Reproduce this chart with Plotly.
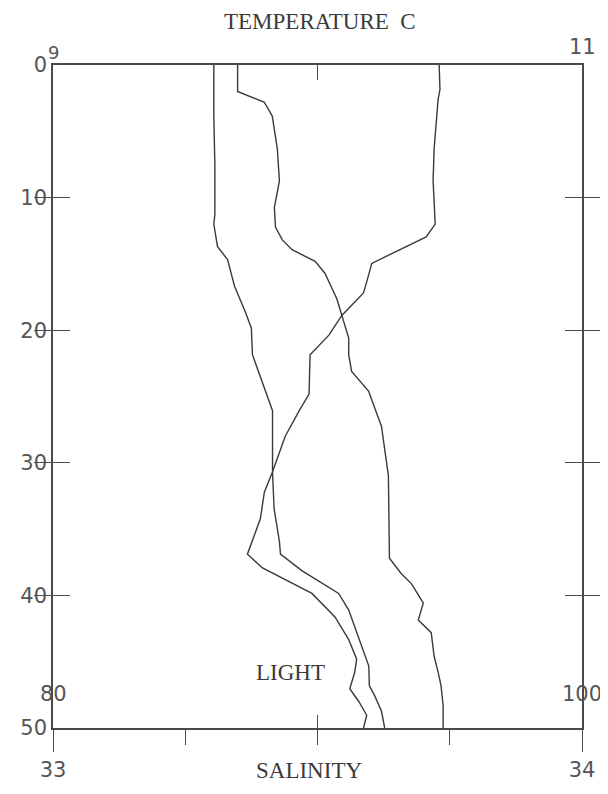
import plotly.graph_objects as go

# ---- data ----
temp_depth = [0, 1.85, 2.59, 6.3, 8.74, 12.0, 12.96, 13.85, 14.96, 16.15, 17.19, 18.89, 20.37,
              21.85, 24.81, 26.07, 28.0, 30.74, 32.22, 34.22, 36.89, 37.93, 39.85, 41.63,
              43.33, 44.81, 45.78, 47.04, 48.0, 49.04, 50]
temp_vals = [10.46, 10.463, 10.456, 10.441, 10.437, 10.445, 10.411, 10.317, 10.205, 10.189,
             10.174, 10.092, 10.043, 9.972, 9.968, 9.931, 9.878, 9.829, 9.799, 9.784, 9.735,
             9.792, 9.979, 10.066, 10.118, 10.148, 10.141, 10.122, 10.156, 10.186, 10.174]

sal_depth = [0, 3.85, 7.56, 11.26, 12.0, 13.7, 14.67, 16.67, 18.67, 19.85, 21.85, 26.07, 30.74,
             33.48, 35.93, 36.89, 38.15, 39.85, 41.11, 42.81, 45.33, 46.81, 47.56, 48.74, 50]
sal_vals = [33.304, 33.304, 33.306, 33.306, 33.304, 33.311, 33.330, 33.343, 33.364, 33.375,
            33.377, 33.415, 33.415, 33.418, 33.428, 33.430, 33.471, 33.540, 33.559, 33.574,
            33.597, 33.598, 33.608, 33.621, 33.627]

light_depth = [0, 2.0, 2.81, 3.85, 6.3, 8.74, 10.74, 12.22, 13.19, 13.93, 14.81, 15.7, 17.63,
               18.89, 20.59, 21.85, 23.11, 24.59, 27.26, 30.96, 34.67, 37.19, 38.37, 39.11,
               40.59, 41.85, 42.81, 44.59, 45.78, 46.81, 48.3, 50]
light_vals = [86.98, 86.98, 87.99, 88.29, 88.48, 88.56, 88.37, 88.41, 88.67, 89.04, 89.91,
              90.28, 90.73, 90.92, 91.18, 91.18, 91.29, 91.93, 92.42, 92.68, 92.72, 92.72,
              93.17, 93.55, 94.00, 93.81, 94.30, 94.41, 94.56, 94.67, 94.75, 94.75]

depth_ticks = [0, 10, 20, 30, 40, 50]
sal_range = [33, 34]
temp_range = [9, 11]
light_range = [80, 100]

LINE = "#3a3a3a"
FRAME = "#4a4a4a"
NUMFONT = dict(family="DejaVu Sans", size=21, color="#555555")
SERIF = dict(family="Liberation Serif", size=23, color="#3a3a3a")

fig = go.Figure()
fig.add_trace(go.Scatter(x=temp_vals, y=temp_depth, xaxis="x2", yaxis="y", mode="lines",
                         line=dict(color=LINE, width=1.4), name="Temperature", showlegend=False))
fig.add_trace(go.Scatter(x=sal_vals, y=sal_depth, xaxis="x", yaxis="y", mode="lines",
                         line=dict(color=LINE, width=1.4), name="Salinity", showlegend=False))
fig.add_trace(go.Scatter(x=light_vals, y=light_depth, xaxis="x3", yaxis="y", mode="lines",
                         line=dict(color=LINE, width=1.4), name="Light", showlegend=False))

# page body has an 8px default margin: figure is 600x786 so the plot lands at x 49..582, y 65..740
fig.update_layout(
    width=600, height=786,
    margin=dict(l=41, r=26, t=57, b=54),
    paper_bgcolor="white", plot_bgcolor="white",
    showlegend=False,
    yaxis=dict(range=[50, 0], tickvals=depth_ticks, ticks="inside", ticklen=17, tickwidth=1.4,
               tickcolor=FRAME, showline=True, linecolor=FRAME, linewidth=1.5,
               mirror="allticks", showgrid=False, zeroline=False, tickfont=NUMFONT),
    xaxis=dict(range=sal_range, tickvals=sal_range, ticktext=["33", "34"], ticks="outside",
               ticklen=22, tickwidth=1.4, tickcolor=FRAME, showline=True, linecolor=FRAME,
               linewidth=1.5, mirror=True, showgrid=False, zeroline=False, tickfont=NUMFONT,
               minor=dict(tickvals=[33.25, 33.5, 33.75], ticks="outside", ticklen=15,
                          tickwidth=1.4, tickcolor=FRAME, showgrid=False)),
    xaxis2=dict(range=temp_range, overlaying="x", side="top", anchor="y", tickvals=[10],
                ticks="inside", ticklen=15, tickwidth=1.4, tickcolor=FRAME,
                showticklabels=False, showline=False, showgrid=False, zeroline=False),
    xaxis3=dict(range=light_range, overlaying="x", side="bottom", anchor="y", tickvals=[90],
                ticks="inside", ticklen=13, tickwidth=1.4, tickcolor=FRAME,
                showticklabels=False, showline=False, showgrid=False, zeroline=False),
)

annotations = [
    dict(text="TEMPERATURE\u00a0\u00a0C", xref="paper", yref="paper", x=0.504, y=1,
         yshift=44, xanchor="center", yanchor="middle", showarrow=False, font=SERIF),
    dict(text="9", xref="x2", yref="paper", x=9, y=1, yshift=13, xanchor="center",
         yanchor="middle", showarrow=False, font=dict(family="DejaVu Sans", size=18, color="#555555")),
    dict(text="11", xref="x2", yref="paper", x=11, y=1, yshift=18, xanchor="center",
         yanchor="middle", showarrow=False, font=NUMFONT),
    dict(text="80", xref="x3", yref="y", x=80, y=47.4, xanchor="center", yanchor="middle",
         showarrow=False, font=NUMFONT),
    dict(text="100", xref="x3", yref="y", x=100, y=47.4, xanchor="center", yanchor="middle",
         showarrow=False, font=NUMFONT),
    dict(text="LIGHT", xref="x3", yref="y", x=88.97, y=45.85, xanchor="center",
         yanchor="middle", showarrow=False, font=SERIF),
    dict(text="SALINITY", xref="x", yref="paper", x=33.484, y=0, yshift=-42,
         xanchor="center", yanchor="middle", showarrow=False, font=SERIF),
]
fig.update_layout(annotations=annotations)

fig.write_html("out.html")
